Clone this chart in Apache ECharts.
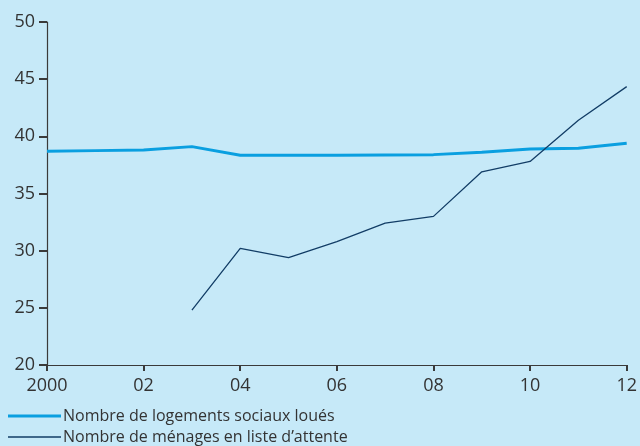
<!DOCTYPE html>
<html>
<head>
<meta charset="UTF-8">
<title></title>
<script src="https://cdn.jsdelivr.net/npm/echarts@6/dist/echarts.min.js"></script>
<style>
html, body { margin: 0; padding: 0; background: #c6e9f8; }
#main { width: 640px; height: 446px; }
</style>
</head>
<body>
<div id="main"></div>
<script>
var years = [2000, 2001, 2002, 2003, 2004, 2005, 2006, 2007, 2008, 2009, 2010, 2011, 2012];
var logementsLoues = [38.7, 38.75, 38.8, 39.1, 38.35, 38.35, 38.35, 38.37, 38.4, 38.6, 38.9, 38.95, 39.4];
var menagesAttente = [null, null, null, 24.8, 30.2, 29.4, 30.8, 32.4, 33.0, 36.9, 37.8, 41.4, 44.35];
var seriesNames = ['Nombre de logements sociaux loués', 'Nombre de ménages en liste d\u2019attente'];

var textColor = '#333';
var axisColor = '#3a3a3a';
var lightBlue = '#0a9fe0';
var darkBlue = '#123d66';
var font = '"Open Sans", "Noto Sans", sans-serif';

function pairs(vals) {
	return years.map(function (y, i) { return [y, vals[i]]; });
}

// une légende par série pour garder l'épaisseur de chaque trait
function legendFor(name, top, h) {
	return {
		orient: 'vertical',
		left: 3,
		top: top,
		icon: 'rect',
		itemWidth: 53,
		itemHeight: h,
		textStyle: { fontSize: 16, color: textColor, fontFamily: font, padding: [0, 0, 0, -3] },
		data: [name]
	};
}

var chart = echarts.init(document.getElementById('main'));
chart.setOption({
	backgroundColor: '#c6e9f8',
	animation: false,
	textStyle: { fontFamily: font, color: textColor },
	grid: { left: 47, right: 12, top: 22, bottom: 81 },
	legend: [
		legendFor(seriesNames[0], 403, 3),
		legendFor(seriesNames[1], 424, 1.3)
	],
	xAxis: {
		type: 'value',
		min: 2000,
		max: 2012,
		interval: 2,
		axisLine: { show: true, onZero: false, lineStyle: { color: axisColor, width: 1.2 } },
		axisTick: { show: true, inside: false, length: 6, lineStyle: { color: axisColor, width: 2 } },
		splitLine: { show: false },
		axisLabel: {
			fontSize: 18,
			color: textColor,
			margin: 12,
			formatter: function (v) {
				return v === 2000 ? '2000' : String(v).slice(2);
			}
		}
	},
	yAxis: {
		type: 'value',
		min: 20,
		max: 50,
		interval: 5,
		axisLine: { show: true, lineStyle: { color: axisColor, width: 1.2 } },
		axisTick: { show: true, inside: false, length: 8, lineStyle: { color: axisColor, width: 2 } },
		splitLine: { show: false },
		axisLabel: { fontSize: 18, color: textColor, margin: 12 }
	},
	series: [
		{
			name: seriesNames[0],
			type: 'line',
			symbol: 'none',
			data: pairs(logementsLoues),
			lineStyle: { color: lightBlue, width: 3 },
			itemStyle: { color: lightBlue }
		},
		{
			name: seriesNames[1],
			type: 'line',
			symbol: 'none',
			data: pairs(menagesAttente),
			lineStyle: { color: darkBlue, width: 1.3 },
			itemStyle: { color: darkBlue }
		}
	]
});
</script>
</body>
</html>
